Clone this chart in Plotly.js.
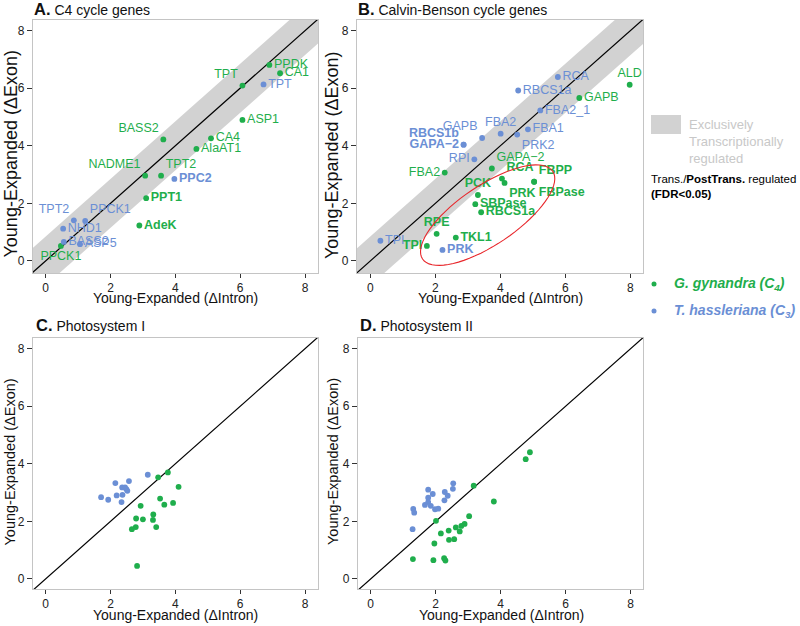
<!DOCTYPE html>
<html><head><meta charset="utf-8">
<script src="https://cdn.plot.ly/plotly-3.0.1.min.js"></script>
<style>html,body{margin:0;padding:0;background:#fff}#chart{width:800px;height:626px}</style>
</head><body><div id="chart"></div>
<script>
// ---------- Panel A: C4 cycle genes ----------
const aGreenNames = ['PPDK','CA1','TPT','ASP1','BASS2','CA4','AlaAT1','NADME1','TPT2','PPT1','AdeK','PPCK1'];
const aGreenX = [6.90,7.23,6.07,6.07,3.63,5.10,4.65,3.07,3.56,3.10,2.89,0.47];
const aGreenY = [6.81,6.52,6.09,4.90,4.22,4.26,3.89,2.96,2.96,2.18,1.23,0.52];
const aGreenBold = [0,0,0,0,0,0,0,0,0,1,1,0];
const aGreenPos = ['middle right','middle right','top left','middle right','top left','middle right','middle right','top left','top right','middle right','middle right','bottom center'];

const aBlueNames = ['TPT','PPC2','TPT2','PPCK1','NHD1','BASS2','ASP5'];
const aBlueX = [6.72,3.97,0.87,1.22,0.54,0.56,1.06];
const aBlueY = [6.13,2.85,1.41,1.39,1.12,0.66,0.58];
const aBlueBold = [0,1,0,0,0,0,0];
const aBluePos = ['middle right','middle right','top left','top right','middle right','middle right','middle right'];

// ---------- Panel B: Calvin-Benson cycle genes ----------
const bGreenNames = ['ALD','GAPB','GAPA\u22122','FBA2','RCA','PRK','FBPP','FBPase','PCK','SBPase','RBCS1a','RPE','TKL1','TPI'];
const bGreenX = [7.98,6.43,3.74,2.29,4.05,4.13,5.04,5.04,3.31,3.23,3.41,2.04,2.63,1.74];
const bGreenY = [6.12,5.66,3.21,3.07,2.86,2.71,2.75,2.75,2.29,1.97,1.69,0.94,0.81,0.52];
const bGreenBold = [0,0,0,0,1,1,1,1,1,1,1,1,1,1];
const bGreenPos = ['top center','middle right','top right','middle left','top right','bottom right','top right','bottom right','top center','middle right','middle right','top center','middle right','middle left'];

const bBlueNames = ['RCA','RBCS1a','FBA2_1','FBA1','PRK2','FBA2','GAPB','RBCS1b','GAPA\u22122','RPI','TPI','PRK'];
const bBlueX = [5.77,4.55,5.23,4.85,4.52,4.01,3.44,2.87,2.87,3.20,0.31,2.22];
const bBlueY = [6.39,5.92,5.23,4.57,4.39,4.42,4.27,4.04,4.04,3.53,0.70,0.38];
const bBlueBold = [0,0,0,0,0,0,0,1,1,0,0,1];
const bBluePos = ['middle right','middle right','middle right','middle right','bottom right','top center','top left','top left','middle left','middle left','middle right','middle right'];

// ---------- Panel C: Photosystem I ----------
const cBlueX = [1.71,1.93,2.15,2.19,2.36,2.37,2.34,2.45,2.49,2.52,2.57,3.15];
const cBlueY = [2.84,2.75,3.33,2.90,3.18,2.92,2.67,3.18,3.12,3.06,3.40,3.62];
const cGreenX = [3.47,3.77,4.10,3.53,3.66,3.93,2.93,3.32,3.31,3.00,2.79,2.78,2.66,3.41,2.82];
const cGreenY = [3.53,3.70,3.20,2.79,2.58,2.64,2.54,2.24,2.05,2.07,2.10,1.80,1.73,1.80,0.45];

// ---------- Panel D: Photosystem II ----------
const dBlueX = [1.29,1.31,1.34,1.67,1.77,1.77,1.77,1.85,1.91,1.98,2.08,2.28,2.27,2.37,2.54,2.53];
const dBlueY = [1.73,2.43,2.30,2.57,3.10,2.82,2.67,2.54,2.95,2.42,2.44,3.02,2.73,2.89,3.32,3.13];
const dGreenX = [4.90,4.77,3.17,3.79,3.03,2.01,2.89,2.79,2.62,2.74,2.40,2.16,2.41,2.57,1.96,1.30,1.93,2.26,2.30];
const dGreenY = [4.40,4.16,3.24,2.69,2.18,2.02,1.91,1.84,1.79,1.65,1.68,1.58,1.36,1.38,1.23,0.69,0.65,0.72,0.64];

const tickVals = [0,2,4,6,8];
const bandHalfWidth = 0.85;

// ---------- styling ----------
const GREEN = '#1fae4c';
const BLUE = '#6b8fd5';
const FONT = 'Liberation Sans, Arial, Helvetica, sans-serif';
const W = 800, H = 626;
const px = (a,b) => [a/W, b/W];
const py = (top,bot) => [1-bot/H, 1-top/H];

function lbl(names, bold){ return names.map((n,i)=> bold[i] ? '<b>'+n+'</b>' : n); }

function pts(xs, ys, color, ax, names, bold, pos){
  const t = {type:'scatter', mode: names ? 'markers+text' : 'markers', x:xs, y:ys,
    xaxis:'x'+ax, yaxis:'y'+ax, hoverinfo:'skip', cliponaxis:false,
    marker:{color:color, size:5.8, line:{width:0}}};
  if(names){
    t.text = lbl(names, bold);
    t.textposition = pos;
    t.textfont = {family:FONT, size:12.5, color:color};
  }
  return t;
}
function band(ax){
  const lo=-2, hi=11, w=bandHalfWidth;
  return {type:'scatter', mode:'lines', x:[lo,hi,hi,lo,lo], y:[lo+w,hi+w,hi-w,lo-w,lo+w],
    fill:'toself', fillcolor:'#d2d2d2', line:{width:0}, xaxis:'x'+ax, yaxis:'y'+ax, hoverinfo:'skip'};
}
function diag(ax){
  return {type:'scatter', mode:'lines', x:[-2,11], y:[-2,11], line:{color:'#000', width:1.2},
    xaxis:'x'+ax, yaxis:'y'+ax, hoverinfo:'skip'};
}

const traces = [
  band(''), diag(''),
  pts(aGreenX,aGreenY,GREEN,'',aGreenNames,aGreenBold,aGreenPos),
  pts(aBlueX,aBlueY,BLUE,'',aBlueNames,aBlueBold,aBluePos),
  band('2'), diag('2'),
  pts(bGreenX,bGreenY,GREEN,'2',bGreenNames,bGreenBold,bGreenPos),
  pts(bBlueX,bBlueY,BLUE,'2',bBlueNames,bBlueBold,bBluePos),
  diag('3'),
  pts(cBlueX,cBlueY,BLUE,'3'), pts(cGreenX,cGreenY,GREEN,'3'),
  diag('4'),
  pts(dBlueX,dBlueY,BLUE,'4'), pts(dGreenX,dGreenY,GREEN,'4')
];

function axis(domain, range, anchor, len){
  return {domain, range, anchor, showgrid:false, zeroline:false, showline:true, mirror:true,
    linecolor:'#c4c4c4', linewidth:1.2, ticks:'outside', ticklen:len, tickwidth:1, tickcolor:'#333',
    tickvals:tickVals, tickfont:{family:FONT, size:12, color:'#222'}, fixedrange:true};
}

const layout = {
  width:W, height:H, margin:{l:0,r:0,t:0,b:0}, showlegend:false,
  paper_bgcolor:'#fff', plot_bgcolor:'#fff', font:{family:FONT},
  xaxis: axis(px(33,318), [-0.39,8.40], 'y', 3.5),
  yaxis: axis(py(20,273), [-0.42,8.37], 'x', 5),
  xaxis2: axis(px(357,643), [-0.41,8.39], 'y2', 3.5),
  yaxis2: axis(py(20,273), [-0.42,8.37], 'x2', 5),
  xaxis3: axis(px(33,318), [-0.39,8.40], 'y3', 3.5),
  yaxis3: axis(py(338,589), [-0.35,8.37], 'x3', 5),
  xaxis4: axis(px(358,643), [-0.39,8.38], 'y4', 3.5),
  yaxis4: axis(py(338,589), [-0.35,8.37], 'x4', 5),
  annotations: [], shapes: []
};

function ann(text, x, y, opts){
  return Object.assign({text, x:x/W, y:1-y/H, xref:'paper', yref:'paper', showarrow:false,
    font:{family:FONT, size:14, color:'#111'}, xanchor:'center', yanchor:'middle'}, opts||{});
}
const A = layout.annotations;
// panel titles
const big = s => '<span style="font-size:16.5px"><b>'+s+'</b></span>';
A.push(ann(big('A.')+' C4 cycle genes', 32, 9, {xanchor:'left'}));
A.push(ann(big('B.')+' Calvin-Benson cycle genes', 356, 9, {xanchor:'left'}));
A.push(ann(big('C.')+' Photosystem I', 34, 325, {xanchor:'left'}));
A.push(ann(big('D.')+' Photosystem II', 358, 325, {xanchor:'left'}));
// axis titles
const yt = 'Young-Expanded (\u0394Exon)', xt = 'Young-Expanded (\u0394Intron)';
A.push(ann(yt, 10.5, 154, {textangle:-90, font:{family:FONT,size:18,color:'#111'}}));
A.push(ann(yt, 332, 155, {textangle:-90, font:{family:FONT,size:18,color:'#111'}}));
A.push(ann(yt, 9.5, 462, {textangle:-90, font:{family:FONT,size:14.5,color:'#111'}}));
A.push(ann(yt, 333, 462, {textangle:-90, font:{family:FONT,size:14.5,color:'#111'}}));
A.push(ann(xt, 175.5, 297.5));
A.push(ann(xt, 500, 297.5));
A.push(ann(xt, 175.5, 615));
A.push(ann(xt, 501, 615));
// legend
A.push(ann('Exclusively<br>Transcriptionally<br>regulated', 687, 141, {xanchor:'left', align:'left',
  font:{family:FONT,size:13,color:'#c8c8c8'}}));
A.push(ann('Trans./<b>PostTrans.</b> regulated<br><b>(FDR&lt;0.05)</b>', 649, 186.5, {xanchor:'left', align:'left',
  font:{family:FONT,size:11.5,color:'#000'}}));
A.push(ann('<b><i>G. gynandra (C<sub>4</sub>)</i></b>', 672, 284, {xanchor:'left', font:{family:FONT,size:14,color:GREEN}}));
A.push(ann('<b><i>T. hassleriana (C<sub>3</sub>)</i></b>', 672, 311, {xanchor:'left', font:{family:FONT,size:14,color:BLUE}}));

const S = layout.shapes;
S.push({type:'rect', xref:'paper', yref:'paper', x0:651/W, x1:681/W, y0:1-134/H, y1:1-115/H,
  fillcolor:'#d2d2d2', line:{width:0}});
[[GREEN,284],[BLUE,311]].forEach(([c,yy])=>{
  S.push({type:'circle', xref:'paper', yref:'paper', xsizemode:'pixel', ysizemode:'pixel',
    xanchor:654/W, yanchor:1-yy/H, x0:-2.5, x1:2.5, y0:-2.5, y1:2.5, fillcolor:c, line:{width:0}});
});

// red ellipse around the post-transcriptionally regulated genes in panel B
(function(){
  const xa = layout.xaxis2, ya = layout.yaxis2;
  const pxPerX = (xa.domain[1]-xa.domain[0])*W/(xa.range[1]-xa.range[0]);
  const pxPerY = (ya.domain[1]-ya.domain[0])*H/(ya.range[1]-ya.range[0]);
  const cx = 3.61, cy = 1.59, a = 78.5, b = 29.5, th = 34*Math.PI/180;
  let d = '';
  for(let i=0;i<=72;i++){
    const t = i/72*2*Math.PI;
    const ox = a*Math.cos(t)*Math.cos(th) - b*Math.sin(t)*Math.sin(th);
    const oy = a*Math.cos(t)*Math.sin(th) + b*Math.sin(t)*Math.cos(th);
    d += (i===0?'M':'L') + (cx+ox/pxPerX).toFixed(4) + ',' + (cy+oy/pxPerY).toFixed(4) + ' ';
  }
  S.push({type:'path', xref:'x2', yref:'y2', path:d+'Z', line:{color:'#e8262b', width:1.1}});
})();

Plotly.newPlot('chart', traces, layout, {staticPlot:true, displayModeBar:false});
</script></body></html>
